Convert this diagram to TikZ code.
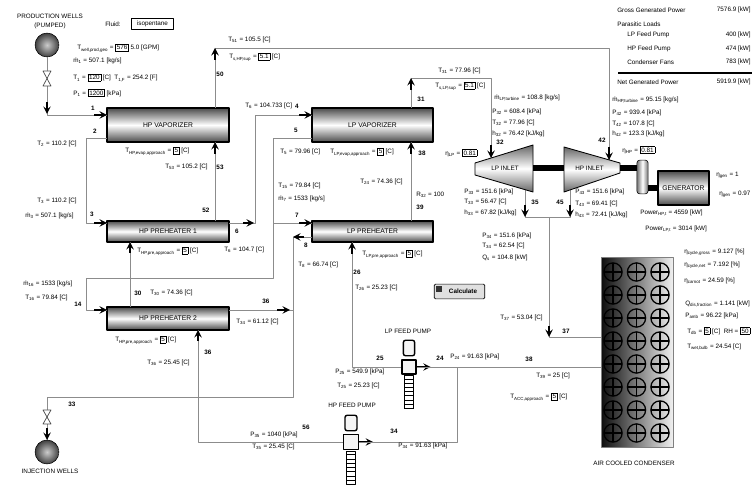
\documentclass[tikz,border=0pt]{standalone}
\usepackage{fontspec}
\usetikzlibrary{patterns}
\setmainfont{Liberation Sans}
\newcommand{\sbs}[1]{\textsubscript{#1}}
\newcommand{\inbox}[1]{{\setlength{\fboxsep}{0.7pt}\setlength{\fboxrule}{0.35pt}\fbox{#1}}}
\tikzset{
	lbl/.style={anchor=west,inner sep=0pt,font=\fontsize{4.5}{5.4}\selectfont},
	num/.style={inner sep=0pt,font=\fontsize{4.5}{5.4}\selectfont\bfseries},
	pipe/.style={draw=black!45,line width=0.55pt},
	port/.style={->,line width=1.3pt},
	vessel/.style={draw,line width=1.3pt,minimum width=86.5pt,inner sep=0pt,top color=black!70,bottom color=black!70,middle color=white,font=\fontsize{4.8}{5.6}\selectfont},
	well/.style={circle,draw,minimum size=17pt,inner sep=0pt,inner color=black!20,outer color=black!75},
	turbine/.style={draw,line width=0.6pt,top color=black!60,bottom color=black!60,middle color=white},
	shaft/.style={line width=4pt},
	fan/.style={circle,draw,line width=0.9pt,minimum size=13pt,inner sep=0pt,path picture={\draw [line width=0.9pt] (path picture bounding box.north) -- (path picture bounding box.south) (path picture bounding box.west) -- (path picture bounding box.east);}},
	valve/.style={draw=black!70,fill=white,line width=0.5pt},
	pumpbox/.style={draw,line width=1pt,fill=black!4,inner sep=0pt},
	pumpfoot/.style={draw,line width=0.8pt,pattern=horizontal lines,inner sep=0pt}
}
\begin{document}
\begin{tikzpicture}[line join=round,x=0.025cm,y=-0.025cm,>=stealth]
	\useasboundingbox (0,0) rectangle (752,485);
	% Behaelter
	\node [vessel,minimum height=24pt] (hpvap) at (168,125) {HP VAPORIZER};
	\node [vessel,minimum height=24pt] (lpvap) at (372.5,125) {LP VAPORIZER};
	\node [vessel,minimum height=15pt] (hppre1) at (168,231.5) {HP PREHEATER 1};
	\node [vessel,minimum height=15pt] (lppre) at (372.5,231.5) {LP PREHEATER};
	\node [vessel,minimum height=16pt] (hppre2) at (168,318.5) {HP PREHEATER 2};
	\node [well] (prod) at (47,45) {};
	\node [well] (inj) at (47,452) {};
	\node [draw=black!50,minimum width=51pt,minimum height=135pt,inner sep=0pt,left color=black!95,middle color=black!28,right color=black!6] (cond) at (637,352) {};
	\foreach \r in {0,...,7}
		\foreach \c in {0,1,2}
			\node [fan] (fan\r\c) at (613+23.5*\c,272+23*\r) {};
	% Pumpen
	\node [pumpbox,minimum size=10pt] (lppump) at (409,367) {};
	\node [pumpbox,rounded corners=1.5pt,minimum width=8pt,minimum height=11pt] (lptop) at (409,348) {};
	\node [pumpfoot,minimum width=7pt,minimum height=23pt] (lpfoot) at (409,392) {};
	\node [pumpbox,minimum size=10.5pt] (hppump) at (351,442) {};
	\node [pumpbox,rounded corners=1.5pt,minimum width=8.5pt,minimum height=11pt] (hptop) at (351,423) {};
	\node [pumpfoot,minimum width=6pt,minimum height=24pt] (hpfoot) at (351,468) {};
	\draw [port] (lppump.east) -- ++(14,0);
	\draw [port] (hppump.east) -- ++(14,0);
	% Anschluesse
	\coordinate (a1) at (107,115);
	\coordinate (a2) at (107,138);
	\coordinate (a3) at (107,223);
	\coordinate (b1) at (215,142);
	\coordinate (b2) at (215,108);
	\coordinate (c1) at (215,221);
	\coordinate (d1) at (229,223);
	\coordinate (e1) at (312,115);
	\coordinate (e2) at (312,138);
	\coordinate (f1) at (107,310);
	\coordinate (f2) at (229,310);
	\coordinate (g1) at (312,223);
	\coordinate (g2) at (312,237);
	\coordinate (h1) at (130,242);
	\coordinate (h2) at (130,307);
	\coordinate (m1) at (198,330);
	\coordinate (n1) at (457,367);
	\coordinate (o1) at (601,367);
	\coordinate (q1) at (352,242);
	\coordinate (r1) at (411,221);
	\coordinate (r2) at (411,142);
	\coordinate (r3) at (411,108);
	\coordinate (s1) at (293,310);
	\coordinate (hpin) at (609,160);
	\coordinate (lpin) at (491,158);
	\coordinate (u1) at (525,188);
	\coordinate (u2) at (570,188);
	\coordinate (v1) at (549,217);
	\coordinate (v2) at (601,337);
	% Leitungen
	\draw [pipe] (prod) |- (a1);
	\draw [pipe] (a2) -- ++(-21,0) |- (a3);
	\draw [pipe] (b1) -- (c1);
	\draw [pipe] (b2) -- ++(0,-60) -| (hpin);
	\draw [pipe] (d1) -- ++(26,0) |- (e1);
	\draw [pipe] (e2) -- ++(-39,0) -- ++(0,140) -- ++(-187,0) |- (f1);
	\draw [pipe] (g1) -- ++(-39,0);
	\draw [pipe] (g2) -- ++(-19,0) -- ++(0,160) -| (inj);
	\draw [pipe] (f2) -- (s1);
	\draw [pipe] (h1) -- (h2);
	\draw [pipe] (m1) |- (hppump.west);
	\draw [pipe] (hppump.east) -| (n1);
	\draw [pipe] (o1) -- (lppump.east);
	\draw [pipe] (lppump.west) -| (q1);
	\draw [pipe] (r1) -- (r2);
	\draw [pipe] (r3) -- ++(0,-30) -| (lpin);
	\draw [pipe] (u1) -- ++(0,29) -| (u2);
	\draw [pipe] (v1) |- (v2);
	% Pfeile
	\draw [port] (47,102) -- (47,114);
	\draw [port] (a1) ++(-13,0) -- (a1);
	\draw [port] (a3) ++(-13,0) -- (a3);
	\draw [port] (b1) ++(0,12) -- (b1);
	\draw [port] (215,60) -- (215,48);
	\draw [port] (d1) ++(14,0) -- ++(11,0);
	\draw [port] (e1) ++(-13,0) -- (e1);
	\draw [port] (f1) ++(-13,0) -- (f1);
	\draw [port] (g1) ++(-13,0) -- (g1);
	\draw [port] (g2) ++(-8,0) -- ++(-11,0);
	\draw [port] (f2) ++(48,0) -- ++(13,0);
	\draw [port] (h1) ++(0,11) -- (h1);
	\draw [port] (m1) ++(0,11) -- (m1);
	\draw [port] (q1) ++(0,12) -- (q1);
	\draw [port] (r2) ++(0,12) -- (r2);
	\draw [port] (411,90) -- (411,78);
	\draw [port] (lpin) ++(0,-13) -- (lpin);
	\draw [port] (hpin) ++(0,-13) -- (hpin);
	\draw [port] (525,205) -- (525,217);
	\draw [port] (570,205) -- (570,217);
	\draw [port] (549,326) -- (549,337);
	\draw [port] (47,428) -- (47,440);
	% Ventile
	\draw [valve] (43,71) -- (51,71) -- (43,86) -- (51,86) -- cycle;
	\draw [valve] (43,410) -- (51,410) -- (43,424) -- (51,424) -- cycle;
	% Turbinen
	\shade [turbine] (475,163) -- (533,145) -- (533,192) -- (475,175) -- cycle;
	\shade [turbine] (564,147) -- (620,163) -- (620,173) -- (564,192) -- cycle;
	\node [draw,rounded corners=2pt,minimum width=8pt,minimum height=24pt,inner sep=0pt,left color=black!55,right color=black!55,middle color=white] (coupling) at (642.5,177) {};
	\node [vessel,minimum width=36pt,minimum height=24pt] (gen) at (683.5,188) {GENERATOR};
	\coordinate (lpend) at (533,168);
	\coordinate (hpend) at (564,168);
	\coordinate (hpout) at (620,168);
	\draw [shaft] (lpend) -- (hpend);
	\draw [shaft] (hpout) -- (coupling.west |- hpout);
	\draw [shaft] (coupling.east |- gen) -- (gen.west);
	\node [lbl] (lplabel) at (491,168) {LP INLET};
	\node [lbl] (hplabel) at (575,168) {HP INLET};
	% Ergebnisse
	\node [lbl] (gross) at (617,10) {Gross Generated Power};
	\node [lbl] (parasit) at (617,24) {Parasitic Loads};
	\node [lbl] (lpload) at (627,35) {LP Feed Pump};
	\node [lbl] (hpload) at (627,49) {HP Feed Pump};
	\node [lbl] (fanload) at (627,62) {Condenser Fans};
	\node [lbl] (net) at (617,82) {Net Generated Power};
	\node [lbl,anchor=east] (grossv) at (751,10) {7576.9 [kW]};
	\node [lbl,anchor=east] (lploadv) at (751,35) {400 [kW]};
	\node [lbl,anchor=east] (hploadv) at (751,49) {474 [kW]};
	\node [lbl,anchor=east] (fanloadv) at (751,62) {783 [kW]};
	\node [lbl,anchor=east] (netv) at (751,82) {5919.9 [kW]};
	\coordinate (rulea) at (618,73);
	\coordinate (ruleb) at (752,73);
	\draw [line width=1.2pt] (rulea) -- (ruleb);
	% Eingaben links oben
	\node [lbl,anchor=center] (prodname) at (50,16) {PRODUCTION WELLS};
	\node [lbl,anchor=center] (pumped) at (50,26) {(PUMPED)};
	\node [lbl,anchor=center] (injname) at (50,471) {INJECTION WELLS};
	\node [lbl] (fluid) at (105,24) {Fluid:};
	\node [draw,line width=0.4pt,minimum width=30pt,minimum height=8pt,inner sep=0pt,font=\fontsize{4.5}{5.4}\selectfont] (fluidbox) at (152.5,24) {isopentane};
	\node [lbl] (well) at (77,48) {T\sbs{well,prod,geo} = \inbox{576} 5.0 [GPM]};
	\node [lbl] (m1t) at (73,61) {ṁ\sbs{1} = 507.1 [kg/s]};
	\node [lbl] (t1t) at (73,78) {T\sbs{1} = \inbox{120} [C] \ T\sbs{1,F} = 254.2 [F]};
	\node [lbl] (p1t) at (73,93) {P\sbs{1} = \inbox{1200} [kPa]};
	% Zustaende HP
	\node [lbl] (t2t) at (37,144) {T\sbs{2} = 110.2 [C]};
	\node [lbl] (t3t) at (37,201) {T\sbs{3} = 110.2 [C]};
	\node [lbl] (m3t) at (25,216) {ṁ\sbs{3} = 507.1 [kg/s]};
	\node [lbl] (hpapp) at (125,151) {T\sbs{HP,evap,approach} = \inbox{5} [C]};
	\node [lbl] (t53) at (165,167) {T\sbs{53} = 105.2 [C]};
	\node [lbl] (t51) at (228,40) {T\sbs{51} = 105.5 [C]};
	\node [lbl] (tsup) at (229,57) {T\sbs{s,HP,sup} = \inbox{5.1} [C]};
	\node [lbl] (happ1) at (137,251) {T\sbs{HP,pre,approach} = \inbox{5} [C]};
	\node [lbl] (t6) at (224,250) {T\sbs{6} = 104.7 [C]};
	\node [lbl] (m16) at (23,284) {ṁ\sbs{16} = 1533 [kg/s]};
	\node [lbl] (t16) at (25,298) {T\sbs{16} = 79.84 [C]};
	\node [lbl] (t30) at (150,293) {T\sbs{30} = 74.36 [C]};
	\node [lbl] (t34b) at (236,322) {T\sbs{34} = 61.12 [C]};
	\node [lbl] (happ2) at (115,340) {T\sbs{HP,pre,approach} = \inbox{5} [C]};
	\node [lbl] (t36) at (147,363) {T\sbs{36} = 25.45 [C]};
	% Zustaende LP
	\node [lbl] (t6b) at (245,106) {T\sbs{6} = 104.733 [C]};
	\node [lbl] (t5) at (280,152) {T\sbs{5} = 79.96 [C]};
	\node [lbl] (lpapp) at (330,152) {T\sbs{LP,evap,approach} = \inbox{5} [C]};
	\node [lbl] (etalp) at (445,153) {η\sbs{LP} = \inbox{0.81}};
	\node [lbl] (t31) at (438,71) {T\sbs{31} = 77.96 [C]};
	\node [lbl] (tslp) at (435,86) {T\sbs{s,LP,sup} = \inbox{5.1} [C]};
	\node [lbl] (t15) at (278,186) {T\sbs{15} = 79.84 [C]};
	\node [lbl] (m7) at (278,199) {ṁ\sbs{7} = 1533 [kg/s]};
	\node [lbl] (t24) at (360,182) {T\sbs{24} = 74.36 [C]};
	\node [lbl] (x32) at (416,195) {R\sbs{32} = 100};
	\node [lbl] (t8) at (298,265) {T\sbs{8} = 66.74 [C]};
	\node [lbl] (lpapp2) at (362,254) {T\sbs{LP,pre,approach} = \inbox{5} [C]};
	\node [lbl] (t26) at (355,288) {T\sbs{26} = 25.23 [C]};
	% Turbinen
	\node [lbl] (mlp) at (494,98) {ṁ\sbs{LP,turbine} = 108.8 [kg/s]};
	\node [lbl] (p32) at (492,112) {P\sbs{32} = 608.4 [kPa]};
	\node [lbl] (t32) at (492,123) {T\sbs{32} = 77.96 [C]};
	\node [lbl] (h32) at (492,134) {h\sbs{32} = 76.42 [kJ/kg]};
	\node [lbl] (mhp) at (612,100) {ṁ\sbs{HP,turbine} = 95.15 [kg/s]};
	\node [lbl] (p42) at (612,113) {P\sbs{42} = 939.4 [kPa]};
	\node [lbl] (t42) at (612,124) {T\sbs{42} = 107.8 [C]};
	\node [lbl] (h42) at (612,134) {h\sbs{42} = 123.3 [kJ/kg]};
	\node [lbl] (etahp) at (622,150) {η\sbs{HP} = \inbox{0.81}};
	\node [lbl] (p33) at (464,192) {P\sbs{33} = 151.6 [kPa]};
	\node [lbl] (t33) at (464,202) {T\sbs{33} = 56.47 [C]};
	\node [lbl] (h33) at (464,213) {h\sbs{33} = 67.82 [kJ/kg]};
	\node [lbl] (p43) at (575,192) {P\sbs{43} = 151.6 [kPa]};
	\node [lbl] (t43) at (575,204) {T\sbs{43} = 69.41 [C]};
	\node [lbl] (h43) at (575,215) {h\sbs{43} = 72.41 [kJ/kg]};
	\node [lbl] (p34) at (482,236) {P\sbs{34} = 151.6 [kPa]};
	\node [lbl] (t34) at (482,246) {T\sbs{34} = 62.54 [C]};
	\node [lbl] (q34) at (482,258) {Q\sbs{s} = 104.8 [kW]};
	\node [lbl] (t37) at (500,318) {T\sbs{37} = 53.04 [C]};
	\node [lbl] (etag) at (716,175) {η\sbs{gen} = 1};
	\node [lbl] (etag2) at (719,194) {η\sbs{gen} = 0.97};
	\node [lbl] (powhp) at (640,213) {Power\sbs{HP,t} = 4559 [kW]};
	\node [lbl] (powlp) at (645,229) {Power\sbs{LP,t} = 3014 [kW]};
	% Kondensator
	\node [lbl] (etaa) at (684,252) {η\sbs{cycle,gross} = 9.127 [\%]};
	\node [lbl] (etab) at (684,265) {η\sbs{cycle,net} = 7.192 [\%]};
	\node [lbl] (etac) at (684,281) {η\sbs{carnot} = 24.59 [\%]};
	\node [lbl] (qdis) at (685,304) {Q\sbs{dis,fraction} = 1.141 [kW]};
	\node [lbl] (pamb) at (685,316) {P\sbs{amb} = 96.22 [kPa]};
	\node [lbl] (tdb) at (687,331) {T\sbs{db} = \inbox{5} [C] \ RH = \inbox{50}};
	\node [lbl] (twet) at (687,347) {T\sbs{wet,bulb} = 24.54 [C]};
	\node [lbl] (t39) at (536,376) {T\sbs{39} = 25 [C]};
	\node [lbl] (tacc) at (510,397) {T\sbs{ACC,approach} = \inbox{5} [C]};
	\node [lbl,anchor=center] (condname) at (634,463) {AIR COOLED CONDENSER};
	% Pumpen Werte
	\node [lbl,anchor=center] (lpname) at (408,331) {LP FEED PUMP};
	\node [lbl,anchor=center] (hpname) at (352,405) {HP FEED PUMP};
	\node [lbl] (p25) at (335,372) {P\sbs{25} = 549.9 [kPa]};
	\node [lbl] (t25) at (337,386) {T\sbs{25} = 25.23 [C]};
	\node [lbl] (p24) at (450,357) {P\sbs{24} = 91.63 [kPa]};
	\node [lbl] (p35) at (250,435) {P\sbs{35} = 1040 [kPa]};
	\node [lbl] (t35) at (252,447) {T\sbs{35} = 25.45 [C]};
	\node [lbl] (p34b) at (398,446) {P\sbs{34} = 91.63 [kPa]};
	\node [draw,rounded corners=1pt,line width=0.5pt,fill=black!12,minimum width=36pt,minimum height=10.5pt,inner sep=0pt,font=\fontsize{4.5}{5.4}\selectfont\bfseries] (calc) at (459.5,291.5) {\hspace*{5pt}Calculate};
	\node [fill=black!80,minimum size=4pt,inner sep=0pt] (calcmark) at (439,289) {};
	% Nummern
	\node [num] (n1t) at (93,108) {1};
	\node [num] (n2t) at (95,131) {2};
	\node [num] (n3t) at (92,214) {3};
	\node [num] (n50) at (220,74) {50};
	\node [num] (n53) at (220,167) {53};
	\node [num] (n52) at (206,210) {52};
	\node [num] (n6) at (237,231) {6};
	\node [num] (n4) at (297,106) {4};
	\node [num] (n5) at (296,130) {5};
	\node [num] (n7) at (297,215) {7};
	\node [num] (n8) at (306,245) {8};
	\node [num] (n31) at (421,99) {31};
	\node [num] (n38) at (422,153) {38};
	\node [num] (n39) at (420,207) {39};
	\node [num] (n32) at (500,142) {32};
	\node [num] (n42) at (602,140) {42};
	\node [num] (n35n) at (535,202) {35};
	\node [num] (n45) at (560,202) {45};
	\node [num] (n37) at (566,331) {37};
	\node [num] (n14) at (78,304) {14};
	\node [num] (n30) at (138,293) {30};
	\node [num] (n36b) at (266,301) {36};
	\node [num] (n36) at (208,352) {36};
	\node [num] (n33) at (72,404) {33};
	\node [num] (n26) at (357,272) {26};
	\node [num] (n25) at (380,358) {25};
	\node [num] (n24) at (440,358) {24};
	\node [num] (n56) at (306,427) {56};
	\node [num] (n34) at (394,431) {34};
	\node [num] (n38b) at (529,359) {38};
\end{tikzpicture}
\end{document}
